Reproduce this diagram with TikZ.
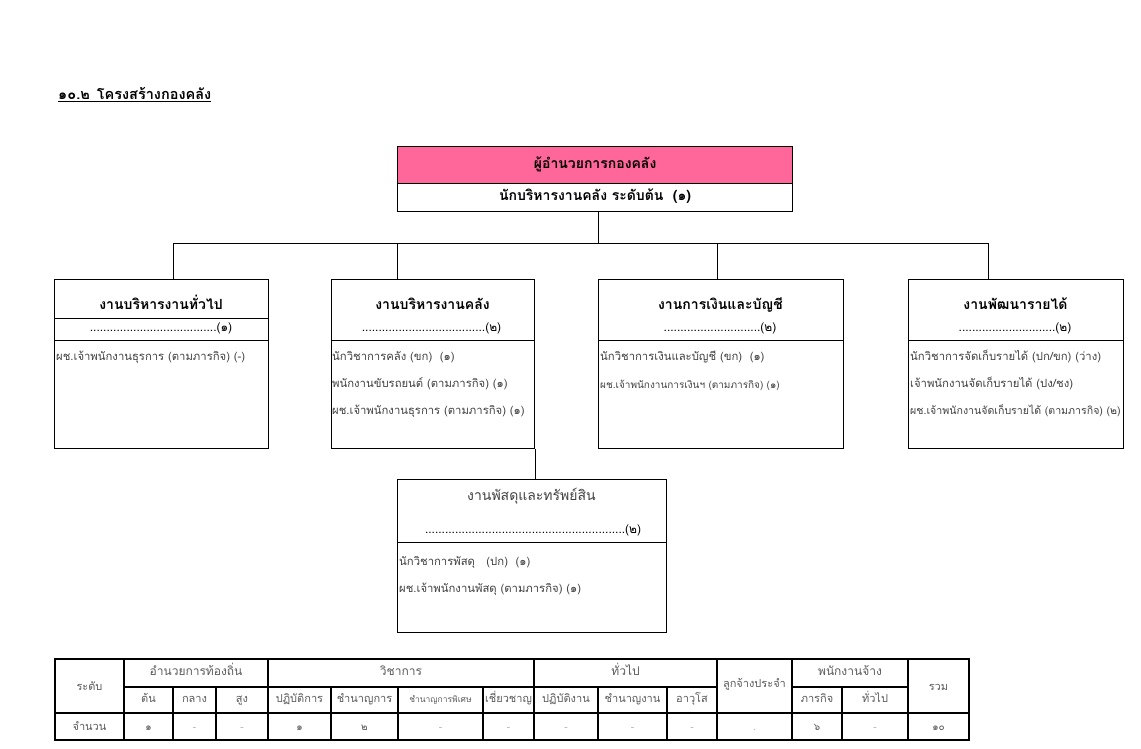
\documentclass[tikz,border=0pt]{standalone}
\usepackage{fontspec}
\setmainfont[Script=Thai]{Loma}
\definecolor{headpink}{RGB}{255,102,153}
\definecolor{bodygray}{RGB}{64,64,64}
\definecolor{cellgray}{RGB}{90,90,90}
\definecolor{dashgray}{RGB}{175,175,175}
\tikzset{
  box_f/.style = {draw=black, line width=1.2pt, inner sep=0pt, anchor=north west},
  link_l/.style = {draw=black, line width=1.2pt},
  tab_l/.style = {draw=black, line width=1.1pt},
  title_t/.style = {font=\bfseries\fontsize{14.5}{17}\selectfont, inner sep=0pt, text height=11, text depth=4},
  head_t/.style = {font=\bfseries\fontsize{14}{16}\selectfont, inner sep=0pt, text height=10, text depth=4},
  dots_t/.style = {font=\fontsize{12}{14}\selectfont, inner sep=0pt, text height=9, text depth=3},
  item_t/.style = {font=\fontsize{11.3}{13}\selectfont, text=bodygray, anchor=west, inner sep=0pt, text height=9, text depth=3},
  cell_t/.style = {font=\fontsize{11}{13}\selectfont, text=cellgray, inner sep=0pt, text height=8, text depth=3},
}

\begin{document}
\begin{tikzpicture}[x=1pt, y=-1pt]
  \useasboundingbox (0,0) rectangle (1141,748);
  \node [title_t, anchor=west] (title) at (58,96) {\underline{๑๐.๒\hspace{7pt}โครงสร้างกองคลัง}};

  \node [box_f, fill=headpink, minimum width=395, minimum height=37, head_t] (chiefA) at (397,146) {ผู้อำนวยการกองคลัง};
  \node [box_f, minimum width=395, minimum height=28, head_t] (chiefB) at (397,183) {นักบริหารงานคลัง ระดับต้น~ (๑)};

  \node [box_f, minimum width=214, minimum height=39] (genH) at (54,279) {};
  \node [box_f, minimum width=214, minimum height=22] (genC) at (54,318) {};
  \node [box_f, minimum width=214, minimum height=108] (genB) at (54,340) {};
  \node [box_f, minimum width=203, minimum height=61] (finH) at (331,279) {};
  \node [box_f, minimum width=203, minimum height=108] (finB) at (331,340) {};
  \node [box_f, minimum width=245, minimum height=61] (accH) at (598,279) {};
  \node [box_f, minimum width=245, minimum height=108] (accB) at (598,340) {};
  \node [box_f, minimum width=215, minimum height=61] (revH) at (908,279) {};
  \node [box_f, minimum width=215, minimum height=108] (revB) at (908,340) {};
  \node [box_f, minimum width=269, minimum height=63] (supH) at (397,479) {};
  \node [box_f, minimum width=269, minimum height=90] (supB) at (397,542) {};

  \draw [link_l] ([xshift=3.5pt]chiefB.south) -- ++(0,31) coordinate (bus);
  \draw [link_l] ([xshift=12pt]genH.north) |- (bus) -| ([xshift=-27.5pt]revH.north);
  \draw [link_l] ([xshift=-35.5pt]finH.north) |- (bus);
  \draw [link_l] ([xshift=-3.5pt]accH.north) |- (bus);
  \draw [link_l] (finB.south east) -- (finB.south east |- supH.north);

  \node [head_t] (genT) at (161,306) {งานบริหารงานทั่วไป};
  \node [dots_t] (genN) at (161,328) {......................................(๑)};
  \node [item_t] (gen1) at (56,357) {ผช.เจ้าพนักงานธุรการ (ตามภารกิจ) (-)};

  \node [head_t] (finT) at (432.5,306) {งานบริหารงานคลัง};
  \node [dots_t] (finN) at (431.5,328) {.....................................(๒)};
  \node [item_t] (fin1) at (332,357) {นักวิชาการคลัง (ขก)~ (๑)};
  \node [item_t] (fin2) at (332,384) {พนักงานขับรถยนต์ (ตามภารกิจ) (๑)};
  \node [item_t] (fin3) at (332,411) {ผช.เจ้าพนักงานธุรการ (ตามภารกิจ) (๑)};

  \node [head_t] (accT) at (720.5,306) {งานการเงินและบัญชี};
  \node [dots_t] (accN) at (720,328) {.............................(๒)};
  \node [item_t] (acc1) at (600,357) {นักวิชาการเงินและบัญชี (ขก)~ (๑)};
  \node [item_t, font=\fontsize{10}{12}\selectfont] (acc2) at (600,385) {ผช.เจ้าพนักงานการเงินฯ (ตามภารกิจ) (๑)};

  \node [head_t] (revT) at (1015.5,306) {งานพัฒนารายได้};
  \node [dots_t] (revN) at (1015,328) {.............................(๒)};
  \node [item_t] (rev1) at (910,357) {นักวิชาการจัดเก็บรายได้ (ปก/ขก) (ว่าง)};
  \node [item_t] (rev2) at (910,384) {เจ้าพนักงานจัดเก็บรายได้ (ปง/ชง)};
  \node [item_t, font=\fontsize{10.6}{12}\selectfont] (rev3) at (910,411) {ผช.เจ้าพนักงานจัดเก็บรายได้ (ตามภารกิจ) (๒)};

  \node [head_t, font=\mdseries\fontsize{14}{16}\selectfont, text=bodygray] (supT) at (531.5,497) {งานพัสดุและทรัพย์สิน};
  \node [dots_t] (supN) at (533,530) {............................................................(๒)};
  \node [item_t] (sup1) at (399,562) {นักวิชาการพัสดุ~~ (ปก)~ (๑)};
  \node [item_t] (sup2) at (399,589) {ผช.เจ้าพนักงานพัสดุ (ตามภารกิจ) (๑)};

  \draw [tab_l] (55,659) rectangle (969,740);
  \draw [tab_l] (124,687) -- (717,687) (792,687) -- (908,687) (55,713) -- (969,713);
  \foreach \x in {124,268,534,717,792,908}
    \draw [tab_l] (\x,659) -- (\x,740);
  \foreach \x in {173,216,331,398,483,598,667,842}
    \draw [tab_l] (\x,687) -- (\x,740);

  \node [cell_t] (lvl) at (89.5,688) {ระดับ};
  \node [cell_t] (cnt) at (89.5,728) {จำนวน};
  \foreach \x/\t [count=\i] in {196/อำนวยการท้องถิ่น, 401/วิชาการ, 625.5/ทั่วไป, 850/พนักงานจ้าง}
    \node [cell_t, font=\fontsize{12}{14}\selectfont] (grp\i) at (\x,673) {\t};
  \node [cell_t] (perm) at (754.5,685) {ลูกจ้างประจำ};
  \node [cell_t] (sum) at (938.5,688) {รวม};
  \foreach \x/\t [count=\i] in {148.5/ต้น, 194.5/กลาง, 242/สูง, 299.5/ปฏิบัติการ, 364.5/ชำนาญการ,
      508.5/เชี่ยวชาญ, 566/ปฏิบัติงาน, 632.5/ชำนาญงาน, 692/อาวุโส, 817/ภารกิจ, 875/ทั่วไป}
    \node [cell_t] (sub\i) at (\x,700) {\t};
  \node [cell_t, font=\fontsize{8.5}{10}\selectfont] (sub12) at (440.5,700) {ชำนาญการพิเศษ};
  \foreach \x/\t/\c [count=\i] in {148.5/๑/cellgray, 194.5/-/dashgray, 242/-/dashgray, 299.5/๑/cellgray,
      364.5/๒/cellgray, 440.5/-/dashgray, 508.5/-/dashgray, 566/-/dashgray, 632.5/-/dashgray,
      692/-/dashgray, 754.5/./dashgray, 817/๖/cellgray, 875/-/dashgray, 938.5/๑๐/cellgray}
    \node [cell_t, text=\c, font=\fontsize{10}{12}\selectfont] (val\i) at (\x,728) {\t};
\end{tikzpicture}
\end{document}
